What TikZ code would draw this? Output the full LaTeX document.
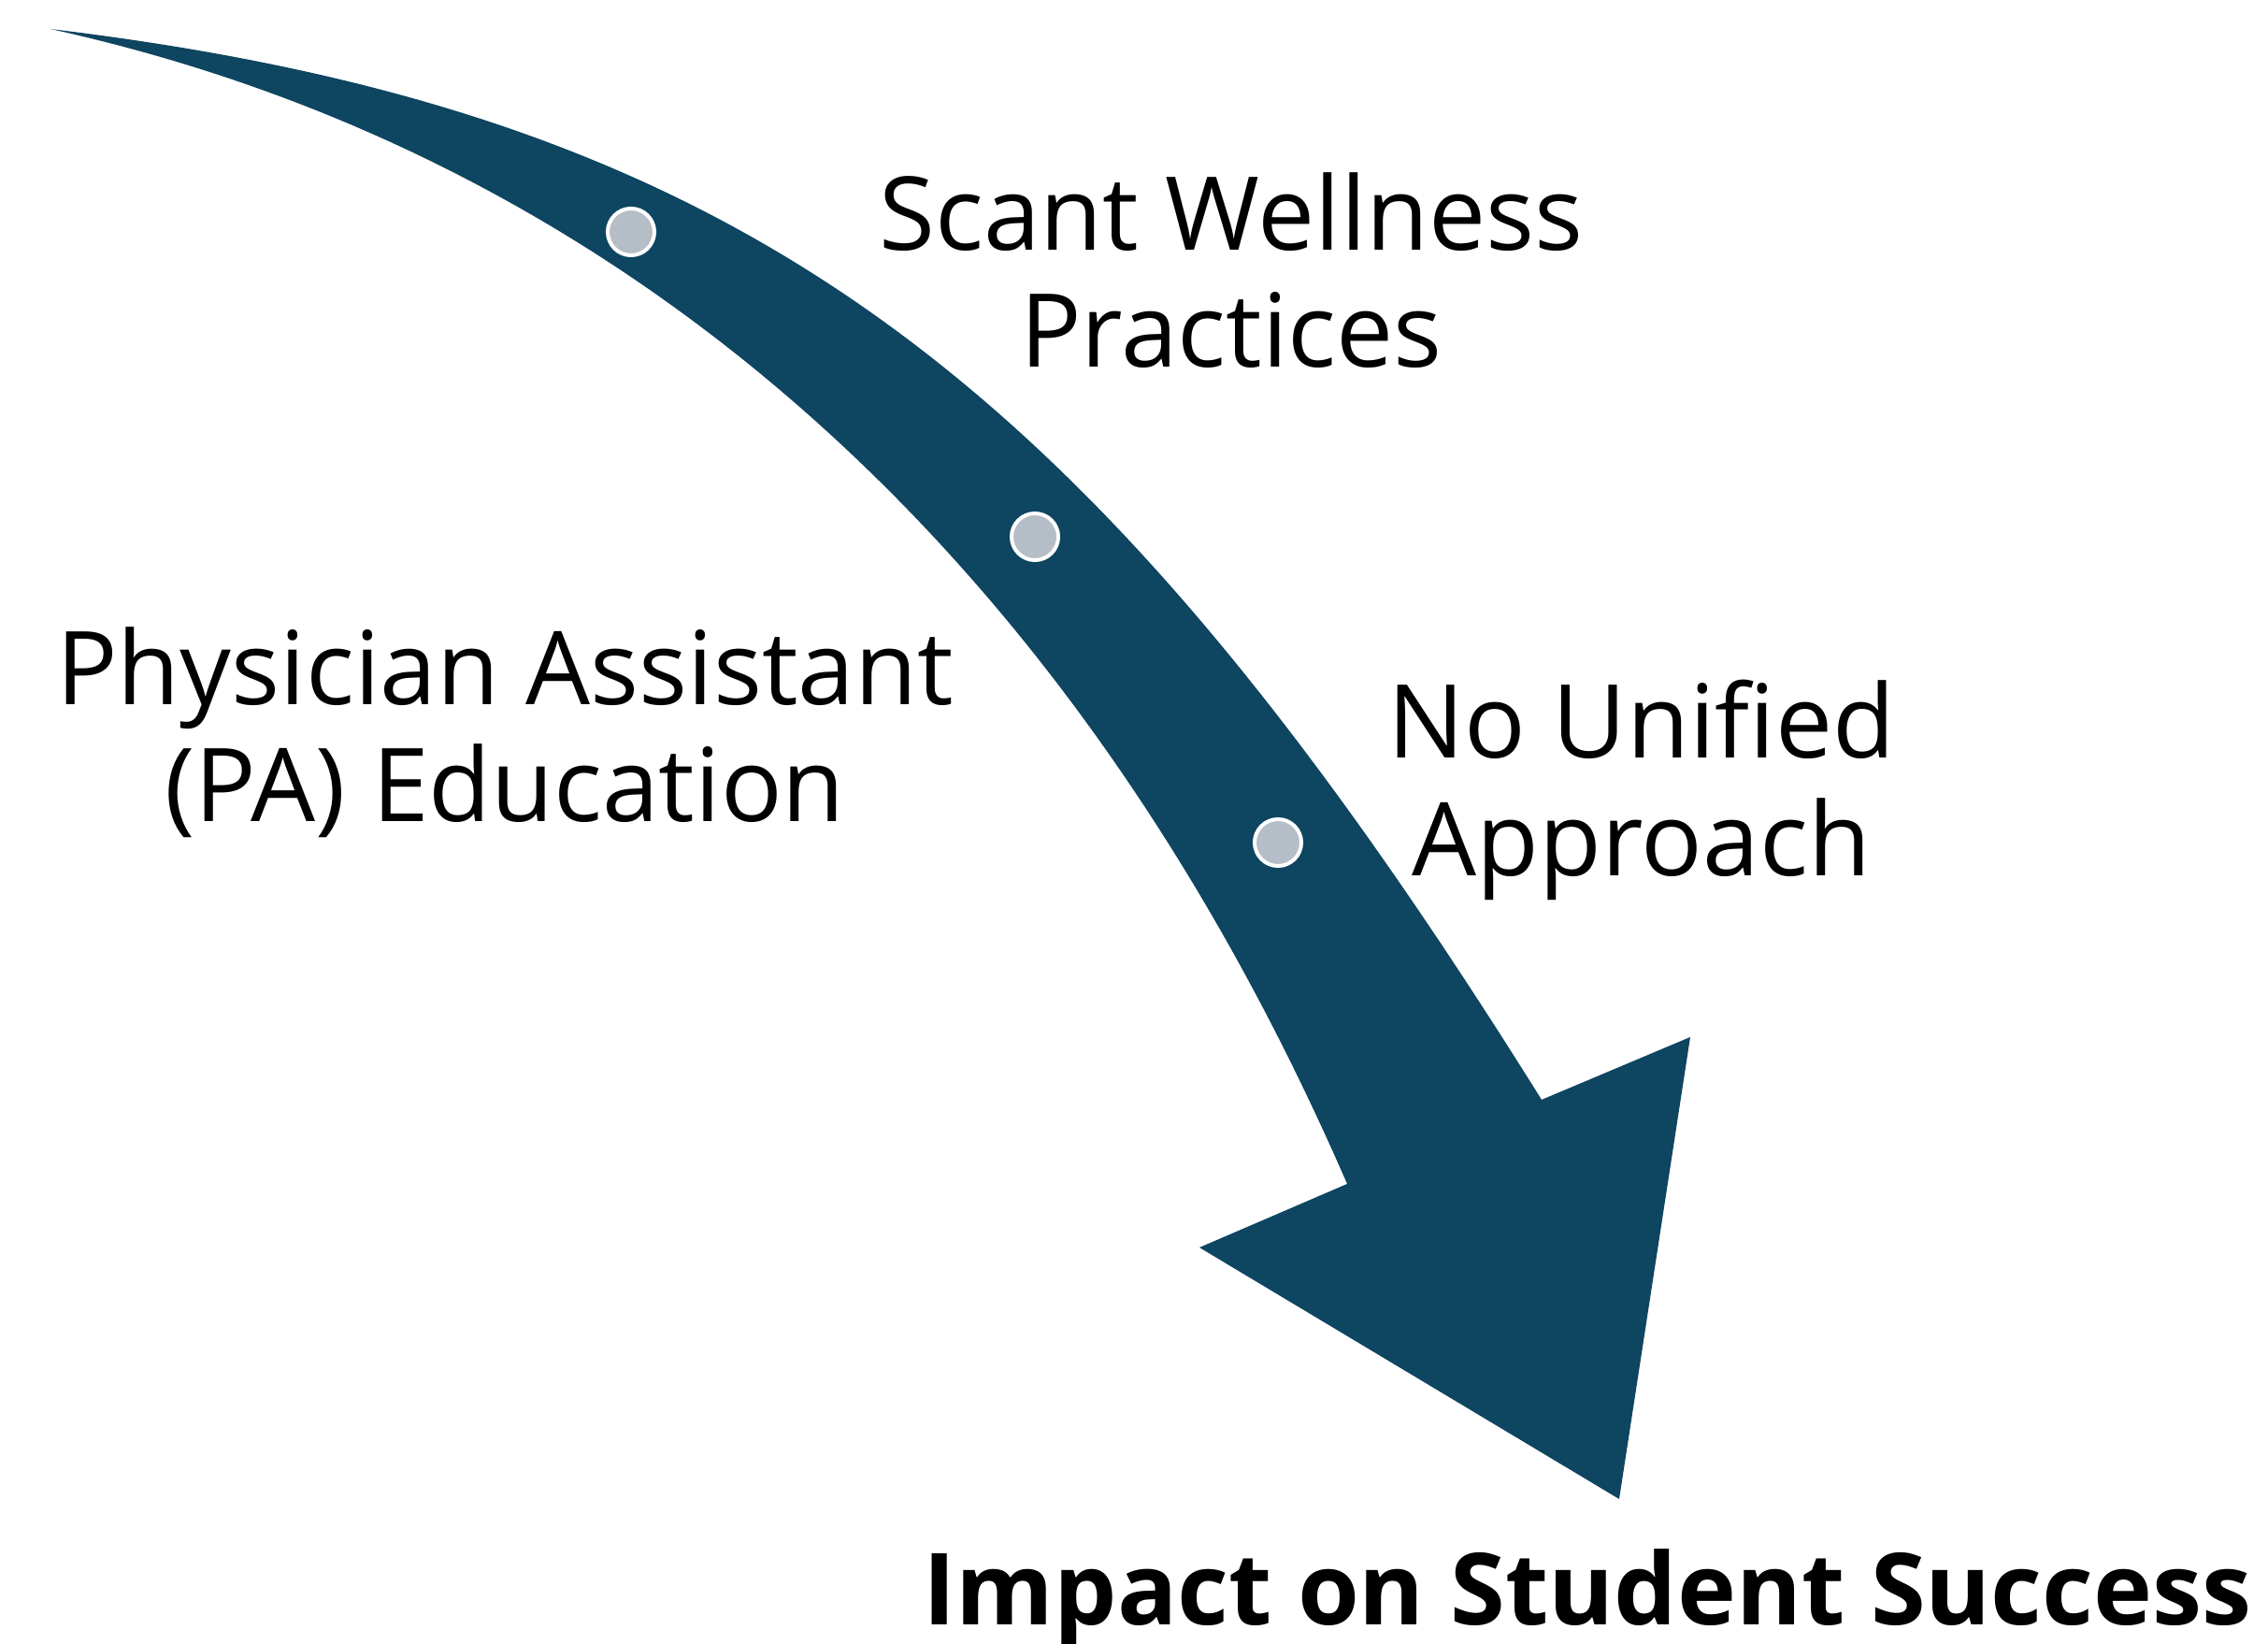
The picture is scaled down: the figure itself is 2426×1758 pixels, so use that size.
\documentclass[tikz,border=0pt]{standalone}
\usepackage{fontspec}
\setmainfont{Open Sans}
\definecolor{arrowcol}{RGB}{14,69,96}
\definecolor{dotgray}{RGB}{181,190,198}
\tikzset{
  dot/.style={circle, fill=dotgray, draw=white, line width=0.04cm, minimum size=0.5cm, inner sep=0pt},
  lbl/.style={align=center, anchor=base, inner sep=0pt, font=\fontsize{31}{35.8}\selectfont},
  title/.style={anchor=base, inner sep=0pt, font=\fontsize{30.3}{36}\selectfont\bfseries}
}
\begin{document}
\begin{tikzpicture}[x=0.01cm,y=-0.01cm]
\useasboundingbox (0,0) rectangle (2426,1758);
\fill[arrowcol] (54,31) .. controls (804,121) and (1169,408) .. (1649,1176)
  -- (1808,1109) -- (1732,1603) -- (1283,1334) -- (1441,1266)
  .. controls (1141,576) and (654,163) .. (54,31) -- cycle;
\node[dot] (d1) at (675,248) {};
\node[dot] (d2) at (1107,574) {};
\node[dot] (d3) at (1367,901) {};
\node[lbl] (scant) at (1317,393) {Scant Wellness\\Practices};
\node[lbl] (pa) at (540,879) {Physician Assistant\\(PA) Education};
\node[lbl] (nou) at (1756,936) {No Unified\\Approach};
\node[title] (impact) at (1698,1737) {Impact on Student Success};
\end{tikzpicture}
\end{document}
